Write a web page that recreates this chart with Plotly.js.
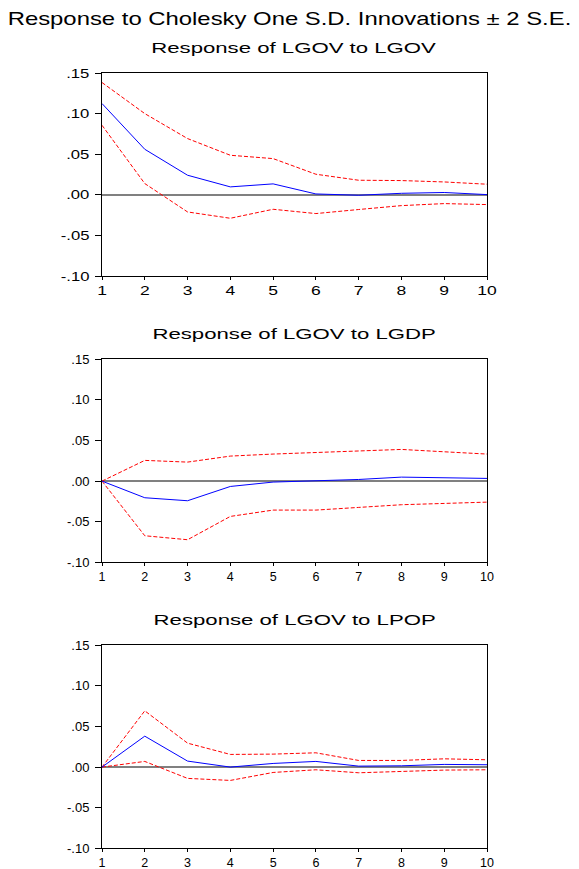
<!DOCTYPE html>
<html>
<head>
<meta charset="utf-8">
<script src="https://cdn.plot.ly/plotly-3.0.1.min.js"></script>
<style>html,body{margin:0;padding:0;background:#fff;}#chart{width:579px;height:869px;}</style>
</head>
<body>
<div id="chart"></div>
<script>
const periods = [1,2,3,4,5,6,7,8,9,10];

const mainTitle = "Response to Cholesky One S.D. Innovations \u00b1 2 S.E.";
const panelTitles = ["Response of LGOV to LGOV", "Response of LGOV to LGDP", "Response of LGOV to LPOP"];

const govResp  = [0.1127, 0.0563, 0.0243, 0.0099, 0.0136, 0.0012, -0.0004, 0.0020, 0.0030, 0.0004];
const govUpper = [0.1386, 0.1003, 0.0695, 0.0489, 0.0448, 0.0255, 0.0181, 0.0177, 0.0160, 0.0132];
const govLower = [0.0859, 0.0140, -0.0210, -0.0288, -0.0177, -0.0230, -0.0180, -0.0132, -0.0107, -0.0119];

const gdpResp  = [0.0, -0.0205, -0.0242, -0.0066, -0.0012, 0.0, 0.0020, 0.0049, 0.0041, 0.0033];
const gdpUpper = [0.0, 0.0255, 0.0234, 0.0308, 0.0333, 0.0353, 0.0374, 0.0390, 0.0361, 0.0333];
const gdpLower = [0.0, -0.0673, -0.0722, -0.0435, -0.0357, -0.0357, -0.0324, -0.0291, -0.0275, -0.0259];

const popResp  = [0.0, 0.0381, 0.0074, 0.0, 0.0045, 0.0070, 0.0012, 0.0016, 0.0033, 0.0029];
const popUpper = [0.0, 0.0693, 0.0295, 0.0156, 0.0160, 0.0176, 0.0082, 0.0082, 0.0102, 0.0090];
const popLower = [0.0, 0.0070, -0.0139, -0.0164, -0.0066, -0.0033, -0.0070, -0.0053, -0.0037, -0.0033];

const yTickVals = [-0.10, -0.05, 0.00, 0.05, 0.10, 0.15];
const yTickText = ["-.10", "-.05", ".00", ".05", ".10", ".15"];

const panels = [
  {resp: govResp, up: govUpper, lo: govLower},
  {resp: gdpResp, up: gdpUpper, lo: gdpLower},
  {resp: popResp, up: popUpper, lo: popLower}
];

const W = 579, H = 869;
const xDom = [102/W, 487/W];
const yPix = [[73.3, 276], [359.3, 562.3], [645.3, 848.3]];
const FONT = "Arial, 'Liberation Sans', sans-serif";

const traces = [];
const layout = {
  width: W, height: H,
  margin: {l: 0, r: 0, t: 0, b: 0},
  paper_bgcolor: "#fff", plot_bgcolor: "#fff",
  showlegend: false,
  font: {family: FONT, color: "#000", size: 13},
  annotations: []
};

panels.forEach((p, i) => {
  const n = i + 1;
  const xa = n === 1 ? "x" : "x" + n;
  const ya = n === 1 ? "y" : "y" + n;
  traces.push({x: periods, y: p.up, xaxis: xa, yaxis: ya, mode: "lines", line: {color: "#ff0000", width: 1, dash: "4px,2px"}, hoverinfo: "skip"});
  traces.push({x: periods, y: p.lo, xaxis: xa, yaxis: ya, mode: "lines", line: {color: "#ff0000", width: 1, dash: "4px,2px"}, hoverinfo: "skip"});
  traces.push({x: periods, y: p.resp, xaxis: xa, yaxis: ya, mode: "lines", line: {color: "#0000ff", width: 1}, hoverinfo: "skip"});
  const yd = [1 - yPix[i][1]/H, 1 - yPix[i][0]/H];
  layout["xaxis" + (n === 1 ? "" : n)] = {
    domain: xDom, anchor: ya, range: [1, 10],
    tickvals: periods, ticktext: periods.map(String),
    ticks: "outside", ticklen: 3, tickcolor: "#000",
    showline: true, linecolor: "#000", linewidth: 1, mirror: true,
    showgrid: false, zeroline: false,
    tickfont: {family: FONT, size: 12.5, color: "#000"}
  };
  layout["yaxis" + (n === 1 ? "" : n)] = {
    domain: yd, anchor: xa, range: [-0.10, 0.15],
    tickvals: yTickVals, ticktext: yTickText,
    ticks: "outside", ticklen: 6, tickcolor: "#000",
    ticklabelstandoff: 3,
    showline: true, linecolor: "#000", linewidth: 1, mirror: true,
    showgrid: false, zeroline: true, zerolinecolor: "#808080", zerolinewidth: 1.5,
    tickfont: {family: FONT, size: 13, color: "#000"}
  };
  layout.annotations.push({
    text: panelTitles[i], xref: "paper", yref: "paper",
    x: 294/W, y: 1 - (yPix[i][0] - 26)/H,
    xanchor: "center", yanchor: "middle", showarrow: false,
    font: {family: FONT, size: 15.5, color: "#000"}
  });
});

layout.annotations.push({
  text: mainTitle, xref: "paper", yref: "paper",
  x: 289.5/W, y: 1 - 18/H, xanchor: "center", yanchor: "middle", showarrow: false,
  font: {family: FONT, size: 18.5, color: "#000"}
});

// The reference text is drawn horizontally stretched; widen glyphs to match.
function stretch(sel, factor) {
  document.querySelectorAll(sel).forEach(el => {
    const w = el.getComputedTextLength();
    if (w > 0) {
      el.setAttribute("textLength", (w * factor).toFixed(2));
      el.setAttribute("lengthAdjust", "spacingAndGlyphs");
    }
  });
}

Plotly.newPlot("chart", traces, layout, {staticPlot: true, displayModeBar: false}).then(() => {
  stretch("#chart .xtick text", 1.4);
  stretch("#chart .ytick text", 1.28);
  document.querySelectorAll("#chart .annotation-text").forEach(el => {
    const f = el.textContent.indexOf("Cholesky") >= 0 ? 1.29 : 1.43;
    const w = el.getComputedTextLength();
    el.setAttribute("textLength", (w * f).toFixed(2));
    el.setAttribute("lengthAdjust", "spacingAndGlyphs");
  });
});
</script>
</body>
</html>
